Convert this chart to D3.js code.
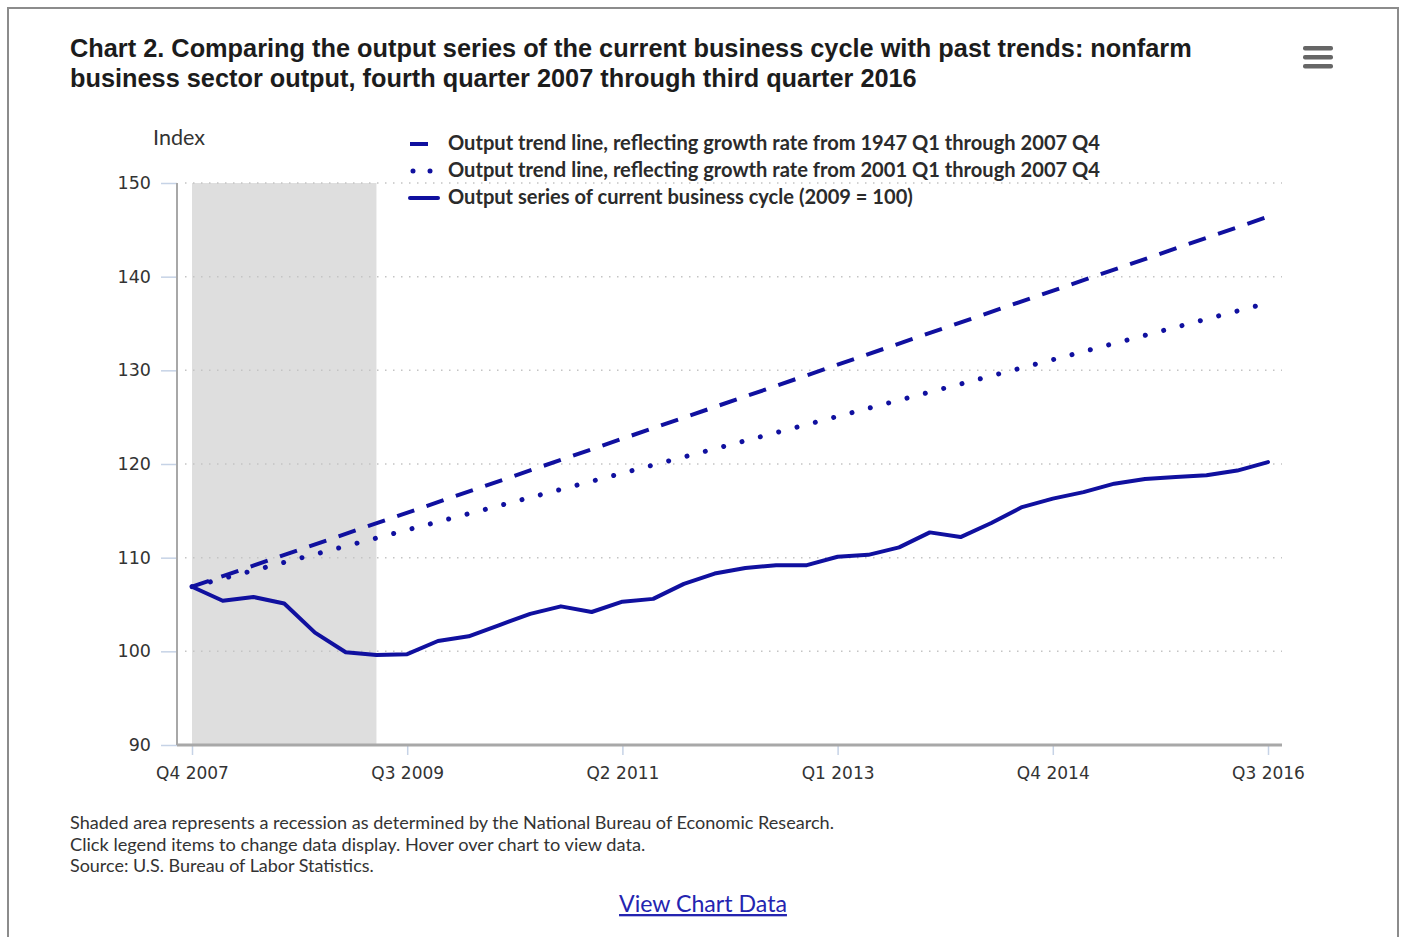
<!DOCTYPE html>
<html>
<head>
<meta charset="utf-8">
<script src="https://cdn.jsdelivr.net/npm/d3@7"></script>
<style>
  html, body { margin: 0; padding: 0; background: #fff; }
  svg { display: block; }
</style>
</head>
<body>
<svg id="chart" width="1401" height="937"></svg>
<script>
// ---- Data -------------------------------------------------------------
const quarters = [
  "Q4 2007",
  "Q1 2008", "Q2 2008", "Q3 2008", "Q4 2008",
  "Q1 2009", "Q2 2009", "Q3 2009", "Q4 2009",
  "Q1 2010", "Q2 2010", "Q3 2010", "Q4 2010",
  "Q1 2011", "Q2 2011", "Q3 2011", "Q4 2011",
  "Q1 2012", "Q2 2012", "Q3 2012", "Q4 2012",
  "Q1 2013", "Q2 2013", "Q3 2013", "Q4 2013",
  "Q1 2014", "Q2 2014", "Q3 2014", "Q4 2014",
  "Q1 2015", "Q2 2015", "Q3 2015", "Q4 2015",
  "Q1 2016", "Q2 2016", "Q3 2016"
];

// Output series of current business cycle (2009 = 100)
const outputSeries = [
  106.9, 105.4, 105.8, 105.1, 102.0, 99.9, 99.6, 99.7, 101.1,
  101.6, 102.8, 104.0, 104.8, 104.2, 105.3, 105.6, 107.2,
  108.3, 108.9, 109.2, 109.2, 110.1, 110.3, 111.1, 112.7,
  112.2, 113.7, 115.4, 116.3, 117.0, 117.9, 118.4, 118.6,
  118.8, 119.3, 120.2
];

// Trend lines, drawn between their first and last quarter
const trendQuarters = ["Q4 2007", "Q3 2016"];
const trend1947Values = [106.9, 146.4];
const trend2001Values = [106.9, 137.2];

// Recession period (NBER)
const recessionQuarters = ["Q4 2007", "Q2 2009"];

const yTicks = [90, 100, 110, 120, 130, 140, 150];
const xTickLabels = ["Q4 2007", "Q3 2009", "Q2 2011", "Q1 2013", "Q4 2014", "Q3 2016"];

const legendLabels = [
  "Output trend line, reflecting growth rate from 1947 Q1 through 2007 Q4",
  "Output trend line, reflecting growth rate from 2001 Q1 through 2007 Q4",
  "Output series of current business cycle (2009 = 100)"
];

const titleLines = [
  "Chart 2. Comparing the output series of the current business cycle with past trends: nonfarm",
  "business sector output, fourth quarter 2007 through third quarter 2016"
];

const notes = [
  "Shaded area represents a recession as determined by the National Bureau of Economic Research.",
  "Click legend items to change data display. Hover over chart to view data.",
  "Source: U.S. Bureau of Labor Statistics."
];

// ---- Layout -----------------------------------------------------------
const plot = { left: 177, right: 1282, top: 183, bottom: 745 };
const lineColor = "#10109f";
const textColor = "#333333";

const svg = d3.select("#chart");

// scale the font so a text line spans the given width
function fitWidth(sel, target) {
  const w = sel.node().getComputedTextLength();
  const fs = parseFloat(sel.attr("font-size"));
  sel.attr("font-size", (fs * target / w).toFixed(2));
  return sel;
}

// Outer frame
svg.append("path")
  .attr("d", "M8,940 V8 H1398 V940")
  .attr("fill", "none")
  .attr("stroke", "#8c8c8c")
  .attr("stroke-width", 2);

// Title
const titleWidths = [1122, 847];
titleLines.forEach((t, i) => {
  const s = svg.append("text")
    .attr("x", 70)
    .attr("y", 57 + i * 30)
    .attr("font-family", "'Liberation Sans', Arial, sans-serif")
    .attr("font-weight", "bold")
    .attr("font-size", 23)
    .attr("fill", "#1c1c1c")
    .text(t);
  fitWidth(s, titleWidths[i]);
});

// Menu (hamburger) icon
[48, 57, 66].forEach(yy => {
  svg.append("rect")
    .attr("x", 1303).attr("y", yy - 2)
    .attr("width", 30).attr("height", 4.5)
    .attr("rx", 2)
    .attr("fill", "#666");
});

// Scales
const x = d3.scalePoint().domain(quarters).range([192, 1268]);
const y = d3.scaleLinear().domain([90, 150]).range([plot.bottom, plot.top]);

// Recession shading
svg.append("rect")
  .attr("x", x(recessionQuarters[0]))
  .attr("y", y(150))
  .attr("width", x(recessionQuarters[1]) - x(recessionQuarters[0]))
  .attr("height", y(90) - y(150))
  .attr("fill", "#dedede");

// Dotted horizontal grid
svg.append("g")
  .selectAll("line")
  .data(yTicks.filter(d => d > 90))
  .join("line")
  .attr("x1", plot.left + 8).attr("x2", plot.right)
  .attr("y1", d => y(d)).attr("y2", d => y(d))
  .attr("stroke", "#c4c4c4")
  .attr("stroke-width", 1.5)
  .attr("stroke-dasharray", "1.5,6.5");

// Y axis
const yAxis = svg.append("g")
  .attr("transform", `translate(${plot.left},0)`)
  .call(d3.axisLeft(y).tickValues(yTicks).tickSize(16).tickPadding(10).tickFormat(d3.format("d")));
yAxis.select(".domain").remove();
yAxis.selectAll(".tick line").attr("stroke", "#c6d3e6").attr("stroke-width", 1.5);
yAxis.selectAll(".tick text")
  .attr("font-family", "'DejaVu Sans', Verdana, sans-serif")
  .attr("font-size", 17.5)
  .attr("fill", textColor);

// X axis
const xAxis = svg.append("g")
  .attr("transform", `translate(0,${plot.bottom})`)
  .call(d3.axisBottom(x).tickValues(xTickLabels).tickSize(10).tickPadding(12));
xAxis.select(".domain").remove();
xAxis.selectAll(".tick line").attr("stroke", "#c6d3e6").attr("stroke-width", 1.5);
xAxis.selectAll(".tick text")
  .attr("font-family", "'DejaVu Sans', Verdana, sans-serif")
  .attr("font-size", 17)
  .attr("fill", textColor);

// Axis lines
svg.append("line")
  .attr("x1", plot.left).attr("x2", plot.left)
  .attr("y1", plot.top).attr("y2", plot.bottom)
  .attr("stroke", "#a8a8a8").attr("stroke-width", 2);
svg.append("line")
  .attr("x1", plot.left).attr("x2", plot.right)
  .attr("y1", plot.bottom).attr("y2", plot.bottom)
  .attr("stroke", "#a8a8a8").attr("stroke-width", 3);

// "Index" axis title
fitWidth(svg.append("text")
  .attr("x", 153).attr("y", 145)
  .attr("font-family", "Lato, 'Open Sans', sans-serif")
  .attr("font-size", 18)
  .attr("fill", textColor)
  .text("Index"), 52);

// Series lines
const line = d3.line().x(d => x(d.q)).y(d => y(d.v));

const trend1947 = trendQuarters.map((q, i) => ({ q, v: trend1947Values[i] }));
const trend2001 = trendQuarters.map((q, i) => ({ q, v: trend2001Values[i] }));
const output = quarters.map((q, i) => ({ q, v: outputSeries[i] }));

const styles = [
  { dash: "18,13", cap: "butt", width: 4 },
  { dash: "0.01,18.95", cap: "round", width: 5 },
  { dash: null, cap: "round", width: 4 }
];

[trend1947, trend2001, output].forEach((data, i) => {
  svg.append("path")
    .datum(data)
    .attr("d", line)
    .attr("fill", "none")
    .attr("stroke", lineColor)
    .attr("stroke-width", styles[i].width)
    .attr("stroke-linecap", styles[i].cap)
    .attr("stroke-linejoin", "round")
    .attr("stroke-dasharray", styles[i].dash);
});

// Legend
const legendY = [144, 171, 198];
const legendWidths = [652, 652, 465];
const legendSymbol = [
  { x1: 410, x2: 438, dash: "18,13" },
  { x1: 413, x2: 438, dash: "0.01,17" },
  { x1: 410, x2: 438, dash: null }
];
legendLabels.forEach((label, i) => {
  svg.append("line")
    .attr("x1", legendSymbol[i].x1).attr("x2", legendSymbol[i].x2)
    .attr("y1", legendY[i]).attr("y2", legendY[i])
    .attr("stroke", lineColor)
    .attr("stroke-width", styles[i].width)
    .attr("stroke-linecap", styles[i].cap)
    .attr("stroke-dasharray", legendSymbol[i].dash);
  const t = svg.append("text")
    .attr("x", 448).attr("y", legendY[i] + 6)
    .attr("font-family", "Lato, 'Open Sans', sans-serif")
    .attr("font-weight", "bold")
    .attr("font-size", 18)
    .attr("fill", "#2b2b2b")
    .text(label);
  fitWidth(t, legendWidths[i]);
});

// Notes under the chart
const noteWidths = [764, 576, 304];
notes.forEach((n, i) => {
  const t = svg.append("text")
    .attr("x", 70).attr("y", 829 + i * 21.5)
    .attr("font-family", "Lato, 'Open Sans', sans-serif")
    .attr("font-size", 16)
    .attr("fill", textColor)
    .text(n);
  fitWidth(t, noteWidths[i]);
});

// "View Chart Data" link
const link = svg.append("text")
  .attr("x", 703).attr("y", 912)
  .attr("text-anchor", "middle")
  .attr("font-family", "Lato, 'Open Sans', sans-serif")
  .attr("font-size", 21)
  .attr("fill", "#2424b0")
  .attr("text-decoration", "underline")
  .text("View Chart Data");
fitWidth(link, 168);
</script>
</body>
</html>
